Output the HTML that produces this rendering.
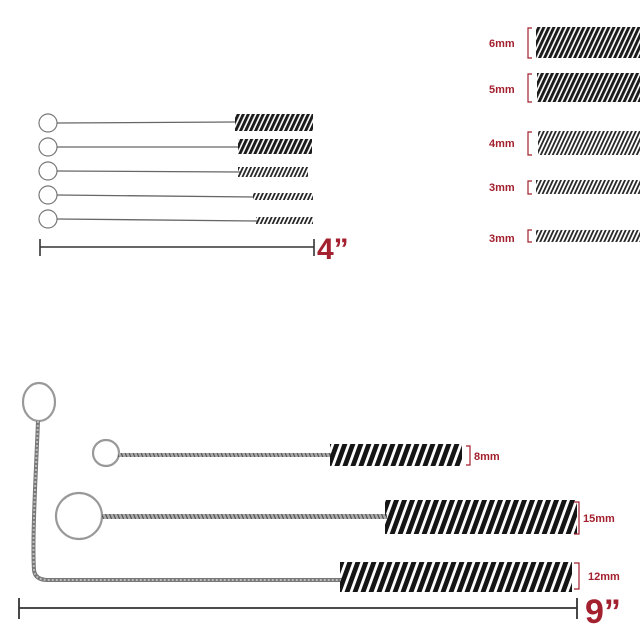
<!DOCTYPE html>
<html><head><meta charset="utf-8"><style>
html,body{margin:0;padding:0;background:#fff;}
svg{display:block;}
text{font-family:"Liberation Sans",sans-serif;font-weight:bold;fill:#a3202f;}
</style></head><body>
<svg width="640" height="625" viewBox="0 0 640 625">
<defs>
<pattern id="b6" patternUnits="userSpaceOnUse" width="5" height="700" patternTransform="skewX(-25)">
<rect x="0" y="0" width="3.2" height="700" fill="#1b1b1b"/>
</pattern>
<pattern id="b4" patternUnits="userSpaceOnUse" width="4" height="700" patternTransform="skewX(-25)">
<rect x="0" y="0" width="2" height="700" fill="#2a2a2a"/>
</pattern>
<pattern id="b8" patternUnits="userSpaceOnUse" width="8" height="700" patternTransform="skewX(-20)">
<rect x="0" y="0" width="5" height="700" fill="#151515"/>
</pattern>
<pattern id="w" patternUnits="userSpaceOnUse" width="4" height="10">
<rect width="4" height="10" fill="#aaa"/>
<path d="M0,0 L4,10" stroke="#555" stroke-width="1.2"/>
</pattern>
</defs>

<g fill="none" stroke="#777" stroke-width="1.2">
<circle cx="48" cy="123" r="9"/><circle cx="48" cy="147" r="9"/><circle cx="48" cy="171" r="9"/><circle cx="48" cy="195" r="9"/><circle cx="48" cy="219" r="9"/>
</g>
<g stroke="#666" stroke-width="1.3">
<line x1="57" y1="123" x2="236" y2="122"/>
<line x1="57" y1="147" x2="240" y2="147"/>
<line x1="57" y1="171" x2="240" y2="172"/>
<line x1="57" y1="195" x2="254" y2="197"/>
<line x1="57" y1="219" x2="258" y2="221"/>
</g>
<rect x="235" y="114" width="78" height="17" fill="url(#b6)"/>
<rect x="238" y="139" width="74" height="15" fill="url(#b6)"/>
<rect x="238" y="167" width="70" height="10" fill="url(#b4)"/>
<rect x="253" y="193" width="60" height="7" fill="url(#b4)"/>
<rect x="256" y="217" width="57" height="7" fill="url(#b4)"/>
<g stroke="#333" stroke-width="1.6">
<line x1="40" y1="247" x2="314" y2="247"/>
<line x1="40" y1="239" x2="40" y2="256"/>
<line x1="314" y1="239" x2="314" y2="256"/>
</g>
<text x="317" y="259" font-size="30">4”</text>

<g font-size="11">
<text x="489" y="47">6mm</text>
<text x="489" y="93">5mm</text>
<text x="489" y="147">4mm</text>
<text x="489" y="191">3mm</text>
<text x="489" y="242">3mm</text>
</g>
<g fill="none" stroke="#a3202f" stroke-width="1.2">
<path d="M532,28 H528 V58 H532"/>
<path d="M532,74 H528 V102 H532"/>
<path d="M532,132 H528 V155 H532"/>
<path d="M532,181 H528 V194 H532"/>
<path d="M532,230 H528 V242 H532"/>
</g>
<rect x="536" y="27" width="104" height="31" fill="url(#b6)"/>
<rect x="537" y="73" width="103" height="29" fill="url(#b6)"/>
<rect x="538" y="131" width="102" height="24" fill="url(#b4)"/>
<rect x="536" y="180" width="104" height="14" fill="url(#b4)"/>
<rect x="536" y="230" width="104" height="12" fill="url(#b4)"/>

<g fill="none" stroke="#999" stroke-width="2.2">
<ellipse cx="39" cy="402" rx="16" ry="19"/>
<circle cx="106" cy="453" r="13"/>
<circle cx="79" cy="516" r="23"/>
</g>
<path d="M38,421 C36,470 32,540 34,570 Q35,580 48,580 L342,580" fill="none" stroke="#777" stroke-width="4"/>
<path d="M38,421 C36,470 32,540 34,570 Q35,580 48,580 L342,580" fill="none" stroke="#bbb" stroke-width="2" stroke-dasharray="2 2"/>
<rect x="118" y="453" width="214" height="4" fill="url(#w)"/>
<rect x="102" y="514" width="285" height="5" fill="url(#w)"/>
<rect x="330" y="444" width="132" height="22" fill="url(#b8)"/>
<rect x="385" y="500" width="192" height="34" fill="url(#b8)"/>
<rect x="340" y="562" width="232" height="30" fill="url(#b8)"/>
<g fill="none" stroke="#a3202f" stroke-width="1.2">
<path d="M466,446 H470 V465 H466"/>
<path d="M574,502 H579 V534 H574"/>
<path d="M574,563 H579 V589 H574"/>
</g>
<g font-size="11">
<text x="474" y="460">8mm</text>
<text x="583" y="522">15mm</text>
<text x="588" y="580">12mm</text>
</g>
<g stroke="#333" stroke-width="1.8">
<line x1="19" y1="608" x2="577" y2="608"/>
<line x1="19" y1="598" x2="19" y2="619"/>
<line x1="577" y1="598" x2="577" y2="619"/>
</g>
<text x="585" y="623" font-size="34">9”</text>
</svg>
</body></html>
